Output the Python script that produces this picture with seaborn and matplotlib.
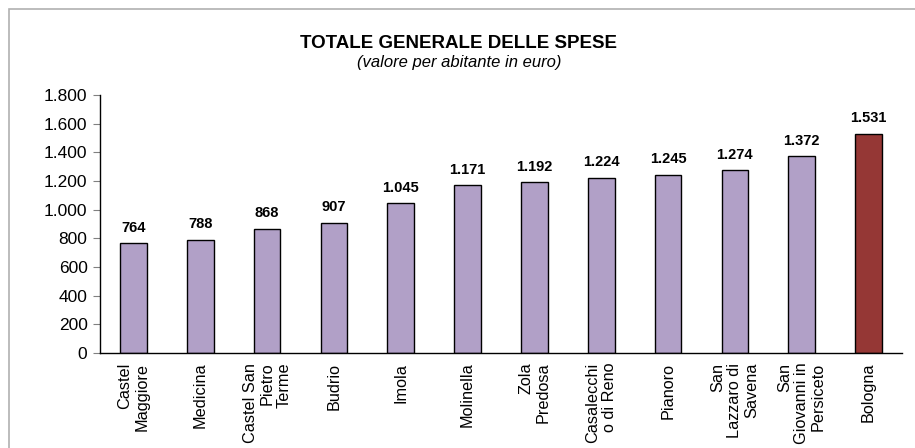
import matplotlib
matplotlib.use("Agg")
import matplotlib.pyplot as plt
import seaborn as sns
from matplotlib.patches import Rectangle

# Data
comuni = ["Castel\nMaggiore", "Medicina", "Castel San\nPietro\nTerme", "Budrio", "Imola",
          "Molinella", "Zola\nPredosa", "Casalecchi\no di Reno", "Pianoro",
          "San\nLazzaro di\nSavena", "San\nGiovanni in\nPersiceto", "Bologna"]
spese = [764, 788, 868, 907, 1045, 1171, 1192, 1224, 1245, 1274, 1372, 1531]
colori = ["#B1A0C7"] * 11 + ["#953735"]
y_ticks = [0, 200, 400, 600, 800, 1000, 1200, 1400, 1600, 1800]

sns.set_style("white")
plt.rcParams["font.family"] = ["Liberation Sans", "DejaVu Sans"]
plt.rcParams["text.color"] = "black"
plt.rcParams["xtick.color"] = "black"
plt.rcParams["ytick.color"] = "black"

fig = plt.figure(figsize=(9.15, 4.48), dpi=100)
ax = fig.add_axes([100 / 915, 1 - 353 / 448, 802 / 915, 258 / 448])

# outer frame of the chart area
fig.patches.append(Rectangle((9 / 915, -0.01), 1.0, 1 - 9 / 448 + 0.01,
                             transform=fig.transFigure, fill=False,
                             edgecolor="#b0b0b0", linewidth=1.2))

sns.barplot(x=list(range(len(comuni))), y=spese, hue=list(range(len(comuni))),
            palette=colori, saturation=1, legend=False, width=0.4,
            edgecolor="black", linewidth=1, ax=ax)

# value labels
for i, v in enumerate(spese):
    ax.text(i, v + 60, f"{v:,}".replace(",", "."), ha="center", va="bottom",
            fontsize=10.5, fontweight="bold")

ax.set_xlim(-0.5, len(comuni) - 0.5)
ax.set_ylim(0, 1800)
ax.set_yticks(y_ticks)
ax.set_yticklabels([f"{t:,}".replace(",", ".") for t in y_ticks], fontsize=12.5)
ax.set_xticks(range(len(comuni)))
ax.set_xticklabels(comuni, rotation=90, fontsize=11.7, multialignment="right",
                   linespacing=1.15)
ax.set_xticks([i - 0.5 for i in range(len(comuni) + 1)], minor=True)
ax.tick_params(axis="x", which="major", length=0, pad=7)
ax.tick_params(axis="x", which="minor", length=5, direction="out", color="#808080")
ax.tick_params(axis="y", length=5, direction="out", color="#808080", pad=4, left=True)
ax.set_xlabel("")
ax.set_ylabel("")

for s in ["top", "right"]:
    ax.spines[s].set_visible(False)
ax.spines["left"].set_color("black")
ax.spines["bottom"].set_color("black")
ax.spines["left"].set_linewidth(1)
ax.spines["bottom"].set_linewidth(1)

fig.text(459 / 915, 1 - 43 / 448, "TOTALE GENERALE DELLE SPESE", ha="center",
         va="center", fontsize=13.5, fontweight="bold")
fig.text(459 / 915, 1 - 63 / 448, "(valore per abitante in euro)", ha="center",
         va="center", fontsize=12, style="italic")

fig.savefig("out.png", dpi=100)
